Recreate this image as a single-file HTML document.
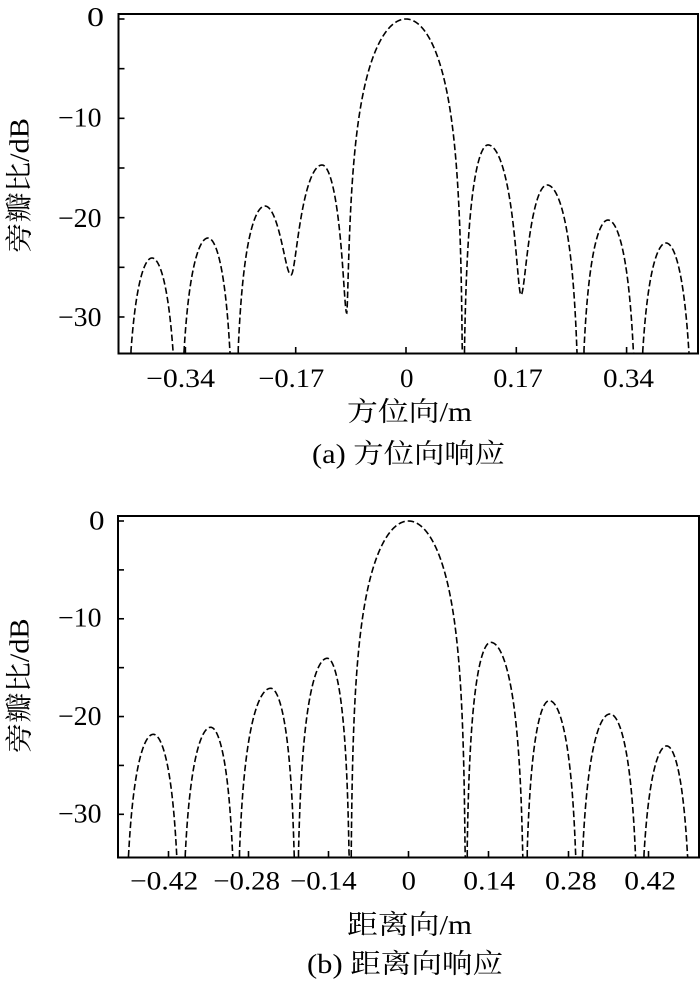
<!DOCTYPE html>
<html>
<head>
<meta charset="utf-8">
<style>
  html,body{margin:0;padding:0;background:#fff;}
  svg{display:block;}
  text{font-family:"Liberation Serif","Noto Serif CJK SC",serif;fill:#000;}
</style>
</head>
<body>
<svg id="s" width="700" height="987" viewBox="0 0 700 987" xmlns="http://www.w3.org/2000/svg">
  <rect x="0" y="0" width="700" height="987" fill="#fff"/>

  <!-- ============ TOP CHART ============ -->
  <rect x="118.5" y="14" width="579.5" height="339.5" fill="none" stroke="#000" stroke-width="2"/>
  <g id="tTicks" stroke="#000" stroke-width="1.6"></g>
  <path id="curveA" d="" fill="none" stroke="#000" stroke-width="1.6" stroke-dasharray="6.5 3"/>

  <!-- y tick labels -->
  <text x="87" y="26" font-size="27" textLength="17" lengthAdjust="spacingAndGlyphs">0</text>
  <text x="58" y="126.5" font-size="27" textLength="43.5" lengthAdjust="spacingAndGlyphs">−10</text>
  <text x="58" y="227" font-size="27" textLength="43.5" lengthAdjust="spacingAndGlyphs">−20</text>
  <text x="58" y="326" font-size="27" textLength="43.5" lengthAdjust="spacingAndGlyphs">−30</text>

  <!-- x tick labels -->
  <text x="146" y="387" font-size="26" textLength="69" lengthAdjust="spacingAndGlyphs">−0.34</text>
  <text x="258.3" y="387" font-size="26" textLength="66" lengthAdjust="spacingAndGlyphs">−0.17</text>
  <text x="400" y="387" font-size="26" textLength="13.5" lengthAdjust="spacingAndGlyphs">0</text>
  <text x="493.3" y="387" font-size="26" textLength="49.4" lengthAdjust="spacingAndGlyphs">0.17</text>
  <text x="603" y="387" font-size="26" textLength="51" lengthAdjust="spacingAndGlyphs">0.34</text>

  <!-- axis titles -->
  <text x="347" y="421" font-size="27" textLength="125" lengthAdjust="spacingAndGlyphs">方位向/m</text>
  <text x="312" y="463" font-size="27" textLength="193" lengthAdjust="spacingAndGlyphs">(a) 方位向响应</text>
  <text transform="translate(28.5,253) rotate(-90)" x="0" y="0" font-size="27" textLength="135" lengthAdjust="spacingAndGlyphs">旁瓣比/dB</text>

  <!-- ============ BOTTOM CHART ============ -->
  <rect x="118" y="516" width="581" height="341.5" fill="none" stroke="#000" stroke-width="2"/>
  <g id="bTicks" stroke="#000" stroke-width="1.6"></g>
  <path id="curveB" d="" fill="none" stroke="#000" stroke-width="1.6" stroke-dasharray="6.5 3"/>

  <!-- y tick labels -->
  <text x="89" y="529.3" font-size="27" textLength="15.5" lengthAdjust="spacingAndGlyphs">0</text>
  <text x="58" y="626.7" font-size="27" textLength="43.5" lengthAdjust="spacingAndGlyphs">−10</text>
  <text x="58" y="725" font-size="27" textLength="43.5" lengthAdjust="spacingAndGlyphs">−20</text>
  <text x="58" y="822.7" font-size="27" textLength="43.5" lengthAdjust="spacingAndGlyphs">−30</text>

  <!-- x tick labels -->
  <text x="130" y="889.3" font-size="26" textLength="68.3" lengthAdjust="spacingAndGlyphs">−0.42</text>
  <text x="213.3" y="889.3" font-size="26" textLength="66.7" lengthAdjust="spacingAndGlyphs">−0.28</text>
  <text x="290" y="889.3" font-size="26" textLength="66.7" lengthAdjust="spacingAndGlyphs">−0.14</text>
  <text x="401.7" y="889.3" font-size="26" textLength="14.3" lengthAdjust="spacingAndGlyphs">0</text>
  <text x="463.3" y="889.3" font-size="26" textLength="51.7" lengthAdjust="spacingAndGlyphs">0.14</text>
  <text x="545" y="889.3" font-size="26" textLength="51.7" lengthAdjust="spacingAndGlyphs">0.28</text>
  <text x="624.3" y="889.3" font-size="26" textLength="51.7" lengthAdjust="spacingAndGlyphs">0.42</text>

  <!-- axis titles -->
  <text x="347" y="934" font-size="27" textLength="125" lengthAdjust="spacingAndGlyphs">距离向/m</text>
  <text x="307" y="973" font-size="27" textLength="196" lengthAdjust="spacingAndGlyphs">(b) 距离向响应</text>
  <text transform="translate(28.5,753.3) rotate(-90)" x="0" y="0" font-size="27" textLength="135" lengthAdjust="spacingAndGlyphs">旁瓣比/dB</text>
</svg>

<script>
(function(){
  var NS="http://www.w3.org/2000/svg";
  function line(g,x1,y1,x2,y2){
    var l=document.createElementNS(NS,"line");
    l.setAttribute("x1",x1);l.setAttribute("y1",y1);
    l.setAttribute("x2",x2);l.setAttribute("y2",y2);
    g.appendChild(l);
  }
  function dbAt(nodes,x){
    var i=0;
    while(i<nodes.length-2 && x>nodes[i+1].x) i++;
    var a=nodes[i], b=nodes[i+1];
    var mx=(a.t==="max")?a:b, mn=(a.t==="max")?b:a;
    var s=Math.abs(x-mn.x)/Math.abs(mx.x-mn.x);
    if(s>1)s=1; if(s<0)s=0;
    var AM=Math.pow(10,mx.db/20);
    var Am=mn.nul?0:Math.pow(10,mn.db/20);
    var sn=Math.sin(Math.PI/2*s);
    var A2=Am*Am+(AM*AM-Am*Am)*sn*sn;
    if(A2<1e-12)A2=1e-12;
    return 10*Math.log10(A2);
  }
  function build(nodes,x0,x1,ymap,ybot){
    var d="",pen=false;
    for(var x=x0;x<=x1+1e-9;x+=0.25){
      var y=ymap(dbAt(nodes,x));
      if(y<=ybot){
        if(!pen){ d+="M"+x.toFixed(2)+" "+ybot.toFixed(2); }
        d+="L"+x.toFixed(2)+" "+y.toFixed(2);
        pen=true;
      }else{
        if(pen){ d+="L"+x.toFixed(2)+" "+ybot.toFixed(2); }
        pen=false;
      }
    }
    return d;
  }
  function N(x,db,t){return {x:x,db:db,t:t,nul:false};}
  function Z(x){return {x:x,db:-200,t:"min",nul:true};}

  /* ---------- top chart ---------- */
  var yA=function(db){return 19-db*9.933;};
  var nodesA=[
    Z(125), N(152,-24.06,"max"), Z(179), N(208,-22.05,"max"), Z(234.5),
    N(265,-18.83,"max"), N(291,-25.77,"min"), N(322,-14.7,"max"),
    N(346.7,-29.6,"min"), N(406,0,"max"), Z(463), N(488,-12.68,"max"),
    N(521,-27.79,"min"), N(547,-16.71,"max"), Z(580), N(608,-20.24,"max"),
    Z(637.5), N(666,-22.55,"max"), Z(694)
  ];
  document.getElementById("curveA").setAttribute("d",build(nodesA,125,690,yA,352.5));
  var gA=document.getElementById("tTicks");
  [0,-5,-10,-15,-20,-25,-30].forEach(function(db){var y=yA(db);line(gA,118.5,y,124.5,y);});
  [185.4,295.7,406,516.3,626.6].forEach(function(x){line(gA,x,353,x,347);});

  /* ---------- bottom chart ---------- */
  var yB=function(db){return 521-db*9.777;};
  var nodesB=[
    Z(124), N(153.3,-21.82,"max"), Z(181), N(210.7,-21.1,"max"), Z(236.3),
    N(270.7,-17.11,"max"), Z(296.5), N(327.3,-14.04,"max"), Z(350.5),
    N(408.5,0,"max"), Z(465.8), N(490.7,-12.41,"max"), Z(524.5),
    N(549.3,-18.38,"max"), Z(578.7), N(610,-19.74,"max"), Z(639),
    N(666.7,-23.01,"max"), Z(692)
  ];
  document.getElementById("curveB").setAttribute("d",build(nodesB,124,689,yB,856.5));
  var gB=document.getElementById("bTicks");
  [0,-5,-10,-15,-20,-25,-30].forEach(function(db){var y=yB(db);line(gB,118,y,124,y);});
  [168.5,248.5,328.5,408.5,488.5,568.5,648.5].forEach(function(x){line(gB,x,857,x,851);});
})();
</script>
</body>
</html>
